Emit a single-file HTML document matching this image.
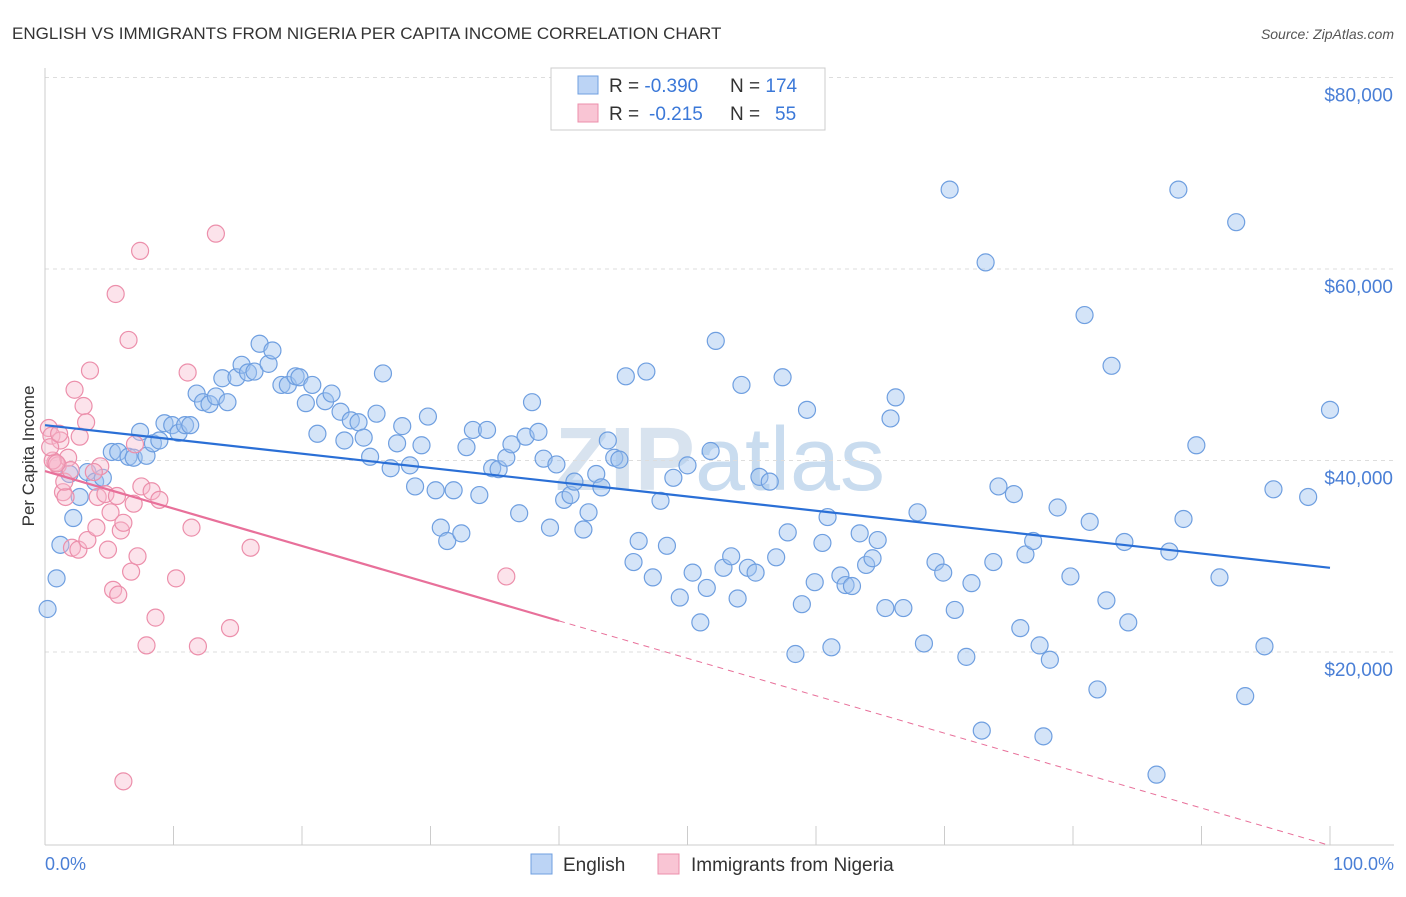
<!DOCTYPE html>
<html><head><meta charset="utf-8"><style>
body{margin:0;background:#fff;font-family:"Liberation Sans",sans-serif;}
svg text{font-family:"Liberation Sans",sans-serif;}
</style></head><body>
<svg id="chart" width="1406" height="892" viewBox="0 0 1406 892" xmlns="http://www.w3.org/2000/svg">
<text x="12" y="39" font-size="17" fill="#333">ENGLISH VS IMMIGRANTS FROM NIGERIA PER CAPITA INCOME CORRELATION CHART</text>
<text x="1394" y="39" font-size="14" fill="#555" font-style="italic" text-anchor="end">Source: ZipAtlas.com</text>
<text x="720" y="490" font-size="90" fill="#d8e3ef" text-anchor="middle" font-weight="bold">ZIP<tspan font-weight="normal" fill="#c9dcef">atlas</tspan></text>
<g id="grid"></g>
<g id="axes"></g>
<g id="pts"></g>
<g id="trend"></g>
<text transform="translate(34,456) rotate(-90)" font-size="17" fill="#333" text-anchor="middle">Per Capita Income</text>
<text x="45" y="870" font-size="18" fill="#4a7fd6">0.0%</text>
<text x="1394" y="870" font-size="18" fill="#4a7fd6" text-anchor="end">100.0%</text>
<g>
<rect x="551" y="68" width="274" height="62" fill="#fff" stroke="#ccc"/>
<rect x="578" y="76" width="20" height="18" fill="#bcd4f5" stroke="#6f9fe0"/>
<rect x="578" y="104" width="20" height="18" fill="#f9c5d4" stroke="#ec8fab"/>
<text x="609" y="92" font-size="19" fill="#333">R = <tspan fill="#3b78d8">-0.390</tspan><tspan x="730">N = </tspan><tspan fill="#3b78d8">174</tspan></text>
<text x="609" y="120" font-size="19" fill="#333">R = <tspan fill="#3b78d8" x="649">-0.215</tspan><tspan x="730">N = </tspan><tspan fill="#3b78d8" x="775">55</tspan></text>
</g>
<g>
<rect x="531" y="854" width="21" height="20" fill="#bcd4f5" stroke="#6f9fe0"/>
<text x="563" y="871" font-size="19" fill="#333">English</text>
<rect x="658" y="854" width="21" height="20" fill="#f9c5d4" stroke="#ec8fab"/>
<text x="691" y="871" font-size="19" fill="#333">Immigrants from Nigeria</text>
</g>
</svg>
<script>
const yTicks=[20000,40000,60000,80000];
const yTickLabels=["$20,000","$40,000","$60,000","$80,000"];
const xTicks=[0,10,20,30,40,50,60,70,80,90,100];
const englishX=[0.2,0.9,1.2,2.2,1.9,2.7,3.3,3.9,4.5,5.2,5.7,6.5,6.9,7.4,7.9,8.4,8.9,9.3,9.9,10.4,10.9,11.3,11.8,12.3,12.8,13.3,13.8,14.2,14.9,15.3,15.8,16.3,16.7,17.4,17.7,18.4,18.9,19.5,19.8,20.3,20.8,21.2,21.8,22.3,23.0,23.3,23.8,24.4,24.8,25.3,25.8,26.3,26.9,27.4,27.8,28.4,28.8,29.3,29.8,30.4,30.8,31.3,31.8,32.4,32.8,33.3,33.8,34.4,34.8,35.3,35.9,36.3,36.9,37.4,37.9,38.4,38.8,39.3,39.8,40.4,40.9,41.2,41.9,42.3,42.9,43.3,43.8,44.3,44.7,45.2,45.8,46.2,46.8,47.3,47.9,48.4,48.9,49.4,50.0,50.4,51.0,51.5,51.8,52.2,52.8,53.4,53.9,54.2,54.7,55.3,55.6,56.4,56.9,57.4,57.8,58.4,58.9,59.3,59.9,60.5,60.9,61.2,61.9,62.3,62.8,63.4,63.9,64.4,64.8,65.4,65.8,66.2,66.8,67.9,68.4,69.3,69.9,70.4,70.8,71.7,72.1,72.9,73.2,73.8,74.2,75.4,75.9,76.3,76.9,77.4,77.7,78.2,78.8,79.8,80.9,81.3,81.9,82.6,83.0,84.0,84.3,86.5,87.5,88.2,88.6,89.6,91.4,92.7,93.4,94.9,95.6,98.3,100.0];
const englishY=[24.7,27.9,31.4,34.2,38.8,36.4,39.0,38.0,38.4,41.1,41.1,40.6,40.5,43.2,40.7,42.0,42.3,44.1,43.9,43.1,43.9,43.9,47.2,46.3,46.1,46.9,48.8,46.3,48.9,50.2,49.4,49.5,52.4,50.3,51.7,48.1,48.1,49.0,48.9,46.2,48.1,43.0,46.4,47.2,45.3,42.3,44.4,44.2,42.6,40.6,45.1,49.3,39.4,42.0,43.8,39.7,37.5,41.8,44.8,37.1,33.2,31.8,37.1,32.6,41.6,43.4,36.6,43.4,39.4,39.3,40.5,41.9,34.7,42.7,46.3,43.2,40.4,33.2,39.8,36.1,36.6,38.0,33.0,34.8,38.8,37.4,42.3,40.5,40.3,49.0,29.6,31.8,49.5,28.0,36.0,31.3,38.4,25.9,39.7,28.5,23.3,26.9,41.2,52.7,29.0,30.2,25.8,48.1,29.0,28.5,38.5,38.0,30.1,48.9,32.7,20.0,25.2,45.5,27.5,31.6,34.3,20.7,28.2,27.2,27.1,32.6,29.3,30.0,31.9,24.8,44.6,46.8,24.8,34.8,21.1,29.6,28.5,68.5,24.6,19.7,27.4,12.0,60.9,29.6,37.5,36.7,22.7,30.4,31.8,20.9,11.4,19.4,35.3,28.1,55.4,33.8,16.3,25.6,50.1,31.7,23.3,7.4,30.7,68.5,34.1,41.8,28.0,65.1,15.6,20.8,37.2,36.4,45.5];
const nigeriaX=[0.3,0.5,0.8,1.0,1.2,1.4,1.6,1.8,2.1,2.3,2.6,2.7,3.0,3.2,3.3,3.5,4.0,4.1,4.3,4.7,4.9,5.1,5.3,5.5,5.7,5.9,6.1,6.5,6.7,6.9,7.2,7.4,7.5,7.9,8.3,8.6,8.9,10.2,11.1,11.4,11.9,13.3,14.4,16.0,35.9,6.1,0.6,1.5,2.0,0.4,3.8,1.1,5.6,7.0,0.9];
const nigeriaY=[43.6,42.8,40.0,39.7,42.3,36.9,36.4,40.5,31.1,47.6,30.9,42.7,45.9,44.2,31.9,49.6,33.2,36.4,39.6,36.7,30.9,34.8,26.7,57.6,26.2,32.9,33.7,52.8,28.6,35.7,30.2,62.1,37.5,20.9,37.0,23.8,36.1,27.9,49.4,33.2,20.8,63.9,22.7,31.1,28.1,6.7,40.2,38.0,39.2,41.6,39.0,43.0,36.5,41.9,39.9];
const englishTrend=[43.9,29.0];
const nigeriaTrend=[39.1,0.0];

const X0=45,X1=1330,YB=845.5,PXK=9.575;
const sx=v=>X0+(X1-X0)*v/100;
const sy=v=>YB-v*PXK;
const NS="http://www.w3.org/2000/svg";
function mk(tag,parent,attrs){const e=document.createElementNS(NS,tag);for(const k in attrs)e.setAttribute(k,attrs[k]);parent.appendChild(e);return e;}
const grid=document.getElementById('grid'),axes=document.getElementById('axes'),pts=document.getElementById('pts'),trend=document.getElementById('trend');
yTicks.forEach((t,i)=>{
 const y=sy(t/1000)-2;
 const l=mk('line',grid,{x1:45,x2:1394,y1:y,y2:y,stroke:'#ddd','stroke-dasharray':'4,4'});
 
 
 const tx=mk('text',grid,{x:1393,y:y+24,'font-size':19,fill:'#4a7fd6','text-anchor':'end'});
 tx.textContent=yTickLabels[i];
 
 
});
const ax=mk('line',axes,{x1:45,x2:1394,y1:845,y2:845,stroke:'#ccc'});


const ay=mk('line',axes,{x1:45,x2:45,y1:68,y2:845,stroke:'#ccc'});


xTicks.forEach(t=>{
 const x=sx(t);
 const tk=mk('line',axes,{x1:x,x2:x,y1:826,y2:845,stroke:'#ccc'});
 
 
});
englishX.forEach((v,i)=>{
 const c=mk('circle',pts,{cx:sx(v),cy:sy(englishY[i]),r:8.5,fill:'rgba(160,195,240,0.45)',stroke:'#6f9fe0','stroke-width':1.2});
 
 
});
nigeriaX.forEach((v,i)=>{
 const c=mk('circle',pts,{cx:sx(v),cy:sy(nigeriaY[i]),r:8.5,fill:'rgba(248,185,205,0.4)',stroke:'#ec8fab','stroke-width':1.2});
 
 
});
const et=mk('line',trend,{x1:sx(0),y1:sy(englishTrend[0]),x2:sx(100),y2:sy(englishTrend[1]),stroke:'#2a6fd6','stroke-width':2.2});


const nAt=p=>nigeriaTrend[0]+(nigeriaTrend[1]-nigeriaTrend[0])*p/100;
const nt=mk('line',trend,{x1:sx(0),y1:sy(nAt(0)),x2:sx(40),y2:sy(nAt(40)),stroke:'#e8709a','stroke-width':2.2});


const nd=mk('line',trend,{x1:sx(40),y1:sy(nAt(40)),x2:sx(100),y2:sy(nAt(100)),stroke:'#e8709a','stroke-width':1,'stroke-dasharray':'6,5'});


</script>
</body></html>
